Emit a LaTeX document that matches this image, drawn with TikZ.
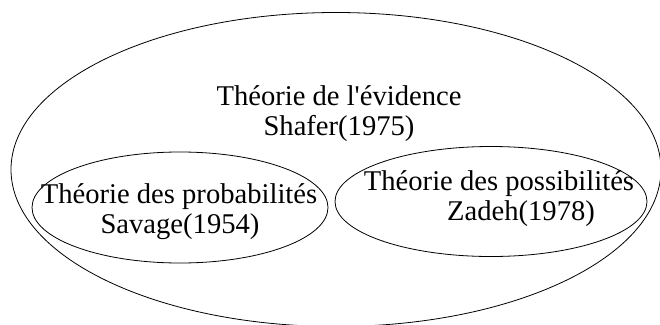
\documentclass[tikz,border=0pt]{standalone}
\usepackage{fontspec}
\setmainfont{Liberation Serif}
\newfontfamily\rawserif{Liberation Serif}[Mapping=]
\usetikzlibrary{shapes.geometric}
\begin{document}
\begin{tikzpicture}[x=1pt,y=-1pt,
  oval/.style={draw, ellipse, line width=0.8pt, inner sep=0pt},
  lbl/.style={font=\fontsize{28.6}{30}\selectfont, inner sep=0pt, anchor=base}]
\useasboundingbox (0,0) rectangle (660,324);
\clip (0,0) rectangle (660,324);
\node[oval, minimum width=650pt, minimum height=314pt] (big) at (336,169.5) {};
\node[oval, minimum width=296pt, minimum height=111pt] (prob) at (180,207.5) {};
\node[oval, minimum width=312pt, minimum height=110pt] (poss) at (491,201.5) {};
\node[lbl] (t1) at (339,105) {Théorie de l{\rawserif\symbol{39}}évidence};
\node[lbl] (t2) at (339,135) {Shafer(1975)};
\node[lbl] (p1) at (179,203) {Théorie des probabilités};
\node[lbl] (p2) at (180,233) {Savage(1954)};
\node[lbl] (q1) at (499,190) {Théorie des possibilités};
\node[lbl] (q2) at (521,220) {Zadeh(1978)};
\end{tikzpicture}
\end{document}
